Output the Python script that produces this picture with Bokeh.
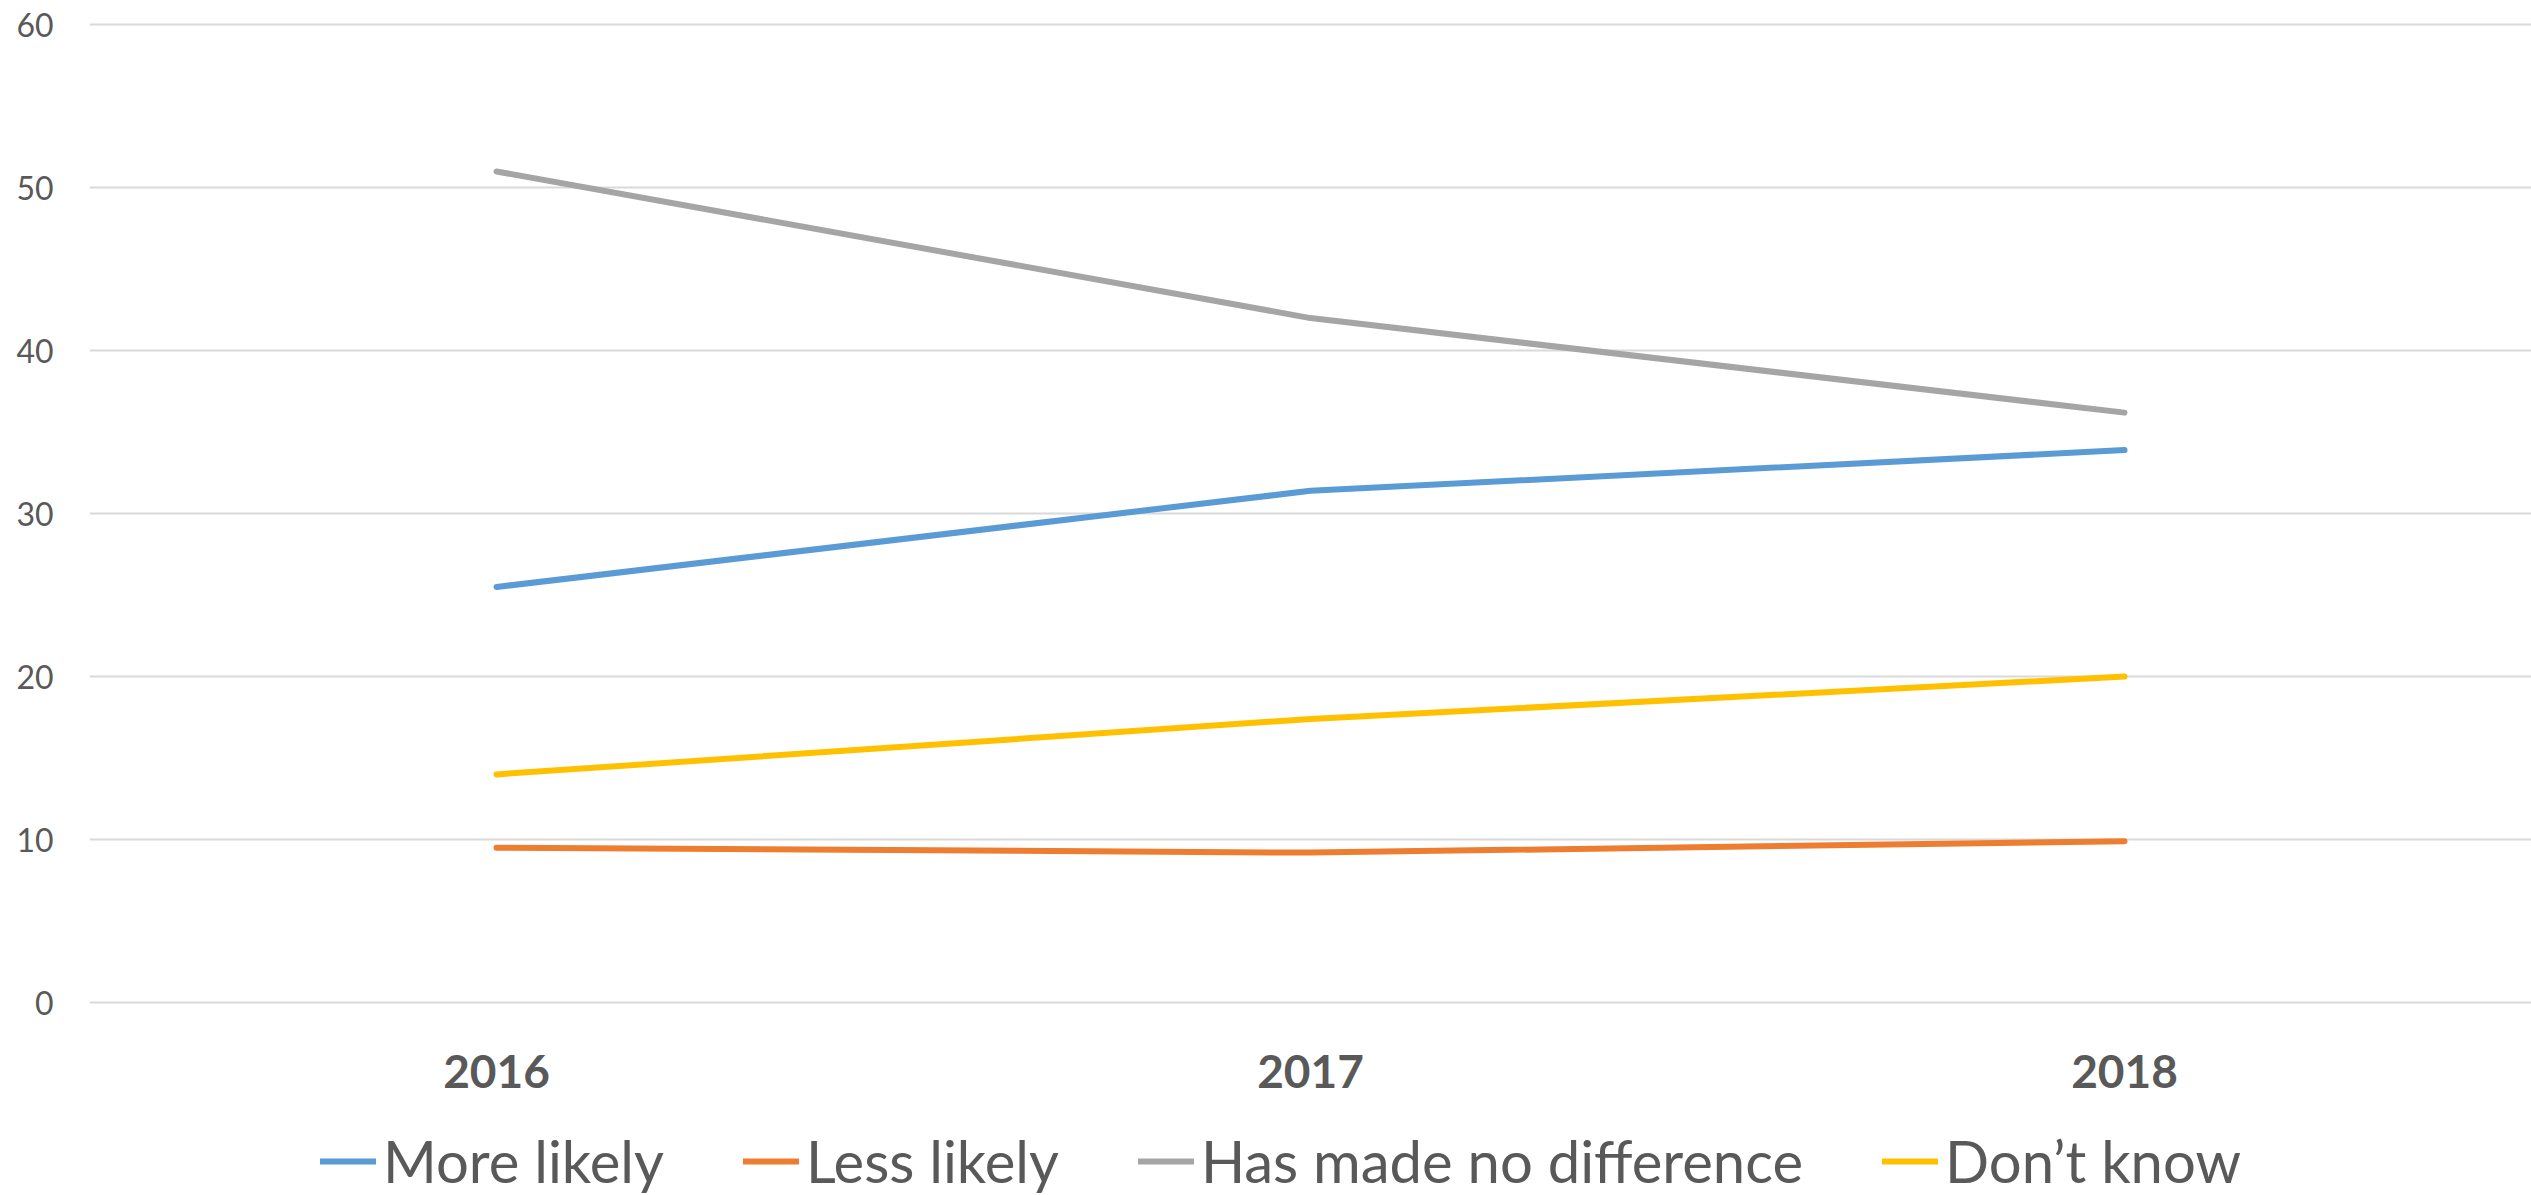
from bokeh.plotting import figure
from bokeh.models import Range1d, FixedTicker, Legend, LegendItem
from bokeh.embed import file_html
from bokeh.resources import INLINE

# ---- data ----
years = ["2016", "2017", "2018"]
more_likely = [25.5, 31.4, 33.9]
less_likely = [9.5, 9.2, 9.9]
no_difference = [51.0, 42.0, 36.2]
dont_know = [14.0, 17.4, 20.0]
series_names = ["More likely", "Less likely", "Has made no difference", "Don\u2019t know"]
y_ticks = [0, 10, 20, 30, 40, 50, 60]

colors = ["#5B9BD5", "#ED7D31", "#A5A5A5", "#FFC000"]
text_color = "#595959"
font = "Lato"

x = list(range(len(years)))

# frame spans the whole lower area so the legend (inside the frame) stays visible;
# the value axis runs 0..60 and the space below 0 holds year labels and legend
p = figure(width=2531, height=1195, output_backend="svg", toolbar_location=None,
           x_range=Range1d(-0.5, 2.5), y_range=Range1d(-11.84, 60.2),
           min_border_left=89, min_border_right=0, min_border_top=21,
           min_border_bottom=0)
p.outline_line_color = None
p.background_fill_color = "white"
p.border_fill_color = "white"

p.xgrid.visible = False
p.ygrid.ticker = FixedTicker(ticks=y_ticks)
p.ygrid.grid_line_color = "#D9D9D9"
p.ygrid.grid_line_width = 2

p.yaxis.ticker = FixedTicker(ticks=y_ticks)
p.yaxis.axis_line_color = None
p.yaxis.major_tick_line_color = None
p.yaxis.minor_tick_line_color = None
p.yaxis.major_tick_out = 0
p.yaxis.major_tick_in = 0
p.yaxis.major_label_standoff = 36
p.yaxis.major_label_text_font = font
p.yaxis.major_label_text_font_size = "32px"
p.yaxis.major_label_text_color = text_color

p.xaxis.fixed_location = 0
p.xaxis.ticker = FixedTicker(ticks=x)
p.xaxis.major_label_overrides = {i: y for i, y in enumerate(years)}
p.xaxis.axis_line_color = None
p.xaxis.major_tick_line_color = None
p.xaxis.minor_tick_line_color = None
p.xaxis.major_tick_out = 0
p.xaxis.major_tick_in = 0
p.xaxis.major_label_standoff = 52
p.xaxis.major_label_text_font = font
p.xaxis.major_label_text_font_size = "46px"
p.xaxis.major_label_text_font_style = "bold"
p.xaxis.major_label_text_color = text_color

items = []
for name, vals, c in zip(series_names, [more_likely, less_likely, no_difference, dont_know], colors):
    r = p.line(x, vals, line_width=6, color=c, line_cap="round", line_join="round")
    items.append(LegendItem(label=name, renderers=[r]))

legend = Legend(items=items, orientation="horizontal", location=(231, 0), ncols=4,
                label_text_font=font, label_text_font_size="58px",
                label_text_color=text_color, glyph_width=56, glyph_height=40,
                label_standoff=7, spacing=79, padding=0, margin=0,
                border_line_color=None, background_fill_alpha=0)
p.add_layout(legend, "center")

open("out.html", "w").write(file_html(p, INLINE))
